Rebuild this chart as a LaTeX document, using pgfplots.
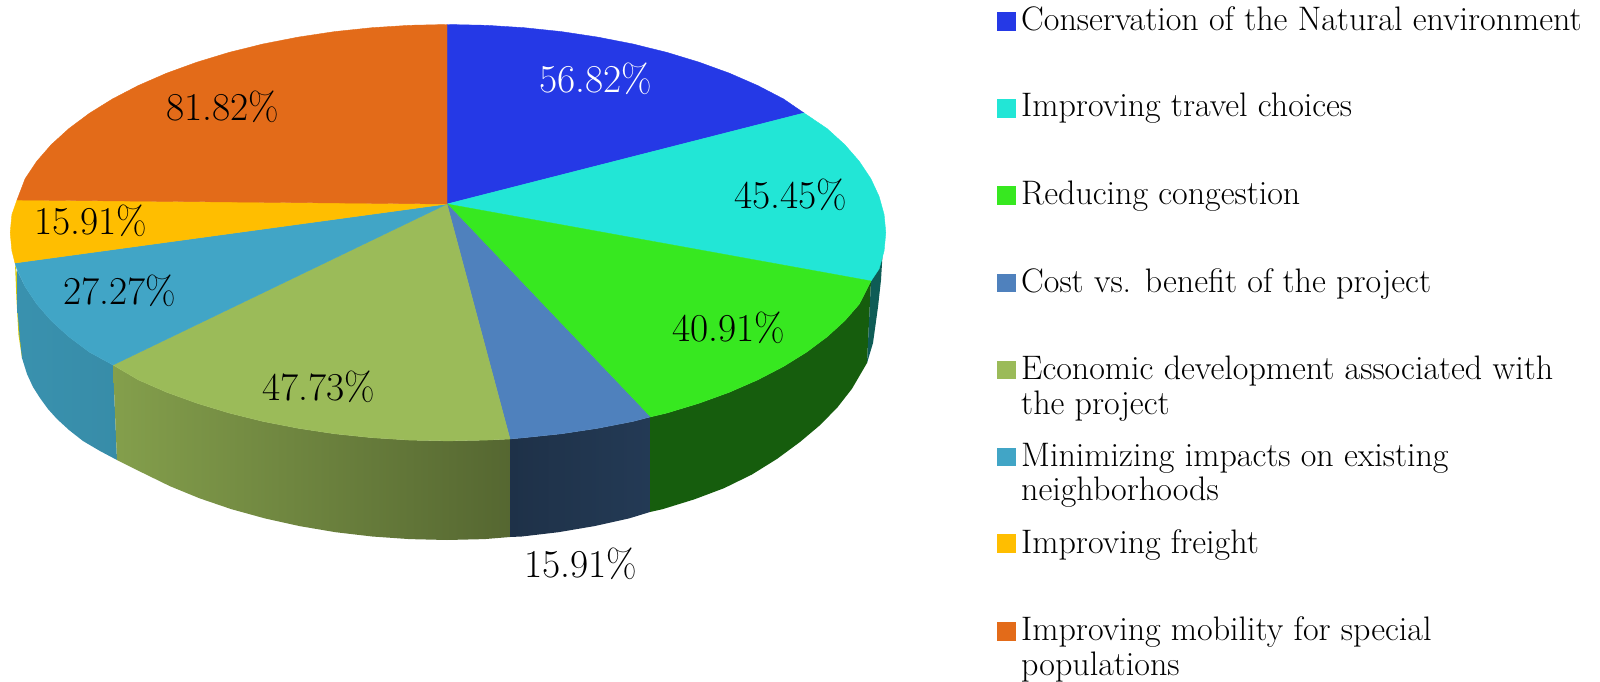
\documentclass[border=0pt]{standalone}
\usepackage{pgfplots}
\pgfplotsset{compat=1.18}
\definecolor{cblue}{HTML}{2539E6}
\definecolor{ccyan}{HTML}{22E6D6}
\definecolor{cgreen}{HTML}{37E820}
\definecolor{csteel}{HTML}{4F81BD}
\definecolor{colive}{HTML}{9BBB59}
\definecolor{cteal}{HTML}{41A5C6}
\definecolor{cyellow}{HTML}{FFBE00}
\definecolor{corange}{HTML}{E36B19}
\newcommand{\lab}[4][black]{\node[anchor=base,inner sep=0pt,text=#1,font=\fontsize{39.5}{44}\selectfont] at (axis cs:#2,#3) {#4};}
\newcommand{\leg}[3]{\node[anchor=base west,inner sep=0pt,font=\fontsize{34}{40}\selectfont] at (axis cs:#1,#2) {#3};}
\begin{document}
\begin{tikzpicture}
\path[use as bounding box] (0,0) rectangle (1600pt,682pt);
\begin{axis}[at={(0,0)},anchor=south west,x=1pt,y=1pt,xmin=0,xmax=1600,ymin=0,ymax=682,y dir=reverse,hide axis,clip=false]
% side walls
\addplot[no markers,draw=none,fill=black!10!yellow!75!olive] coordinates {(15,263)(16.5,300)(18.5,335)(22,358)(24,350)(20,290)};
\addplot[no markers,draw=none,left color=cteal!88!black,right color=cteal!85!black] coordinates {(113,365)(89.4,352.1)(68.9,336.8)(51.2,320.7)(36.6,303.9)(25.1,286.6)(17,270)(17.5,310)(19.5,335)(22,358)(27,374)(33,387)(40,398)(48,409)(57,419)(69,430)(83,441)(100,451)(117,460)};
\addplot[no markers,draw=none,left color=colive!85!black,right color=colive!55!black] coordinates {(113,365)(138.4,379.9)(166.6,392.2)(196.9,403.2)(229.1,413)(263,421.4)(298.3,428.3)(334.7,433.8)(372,437.7)(409.8,440.1)(448,440.9)(486.2,440.1)(510,439)(510,537)(484.6,539.1)(447,540)(409.4,539.1)(372.2,536.5)(335.5,532.2)(299.6,526.1)(264.9,518.4)(231.5,509.2)(199.8,498.4)(170,486.2)(142.2,472.6)(117,460)};
\addplot[no markers,draw=none,left color=csteel!38!black,right color=csteel!45!black] coordinates {(510,439)(524,437.7)(561.3,433.8)(597.7,428.3)(633,421.4)(650,417)(650,512)(629.1,518.4)(594.4,526.1)(558.5,532.2)(521.8,536.5)(510,537)};
\addplot[no markers,draw=none,fill=cgreen!40!black] coordinates {(650,417)(666.9,413)(699.1,403.2)(729.4,392.2)(757.6,379.9)(783.4,366.5)(806.6,352.1)(827.1,336.8)(844.8,320.7)(859.4,303.9)(871,281)(867,363)(852,388.7)(837.6,407.2)(820.2,425)(800.1,441.9)(777.2,458.8)(751.8,474.6)(724,488.2)(694.2,499.4)(662.5,509.2)(650,512)};
\addplot[no markers,draw=none,fill=ccyan!40!black] coordinates {(883,247)(871,281)(867,363)(873,343)(878,307)(881,280)};
% top slices
\addplot[no markers,draw=cblue,line width=.4pt,fill=cblue] coordinates {(447,204)(447,24.5)(486.2,25.3)(524,27.7)(561.3,31.6)(597.7,37.1)(633,44)(666.9,52.4)(699.1,62.2)(729.4,73.2)(757.6,85.5)(783.4,98.9)(804,113)(447,204)};
\addplot[no markers,draw=ccyan,line width=.4pt,fill=ccyan] coordinates {(447,204)(804,113)(827.1,128.6)(844.8,144.7)(859.4,161.5)(870.9,178.8)(879.1,196.5)(884.1,214.6)(885.8,232.7)(884.1,250.8)(879.1,268.9)(871,281)(447,204)};
\addplot[no markers,draw=cgreen,line width=.4pt,fill=cgreen] coordinates {(447,204)(871,281)(859.4,303.9)(844.8,320.7)(827.1,336.8)(806.6,352.1)(783.4,366.5)(757.6,379.9)(729.4,392.2)(699.1,403.2)(666.9,413)(650,417)(447,204)};
\addplot[no markers,draw=csteel,line width=.4pt,fill=csteel] coordinates {(447,204)(650,417)(633,421.4)(597.7,428.3)(561.3,433.8)(524,437.7)(510,439)(447,204)};
\addplot[no markers,draw=colive,line width=.4pt,fill=colive] coordinates {(447,204)(510,439)(486.2,440.1)(448,440.9)(409.8,440.1)(372,437.7)(334.7,433.8)(298.3,428.3)(263,421.4)(229.1,413)(196.9,403.2)(166.6,392.2)(138.4,379.9)(113,365)(447,204)};
\addplot[no markers,draw=cteal,line width=.4pt,fill=cteal] coordinates {(447,204)(113,365)(89.4,352.1)(68.9,336.8)(51.2,320.7)(36.6,303.9)(25.1,286.6)(16.9,268.9)(15,263)(447,204)};
\addplot[no markers,draw=cyellow,line width=.4pt,fill=cyellow] coordinates {(447,204)(15,263)(11.9,250.8)(10.2,232.7)(11.9,214.6)(17,200)(447,204)};
\addplot[no markers,draw=corange,line width=.4pt,fill=corange] coordinates {(447,204)(17,200)(25.1,178.8)(36.6,161.5)(51.2,144.7)(68.9,128.6)(89.4,113.3)(112.6,98.9)(138.4,85.5)(166.6,73.2)(196.9,62.2)(229.1,52.4)(263,44)(298.3,37.1)(334.7,31.6)(372,27.7)(409.8,25.3)(447,24.5)(447,204)};
% legend keys
\addplot[only marks,mark=square*,mark size=8.8pt,color=cblue,line width=0pt] coordinates {(1006.7,21.7)};
\addplot[only marks,mark=square*,mark size=8.8pt,color=ccyan,line width=0pt] coordinates {(1006.7,108.5)};
\addplot[only marks,mark=square*,mark size=8.8pt,color=cgreen,line width=0pt] coordinates {(1006.7,195.5)};
\addplot[only marks,mark=square*,mark size=8.8pt,color=csteel,line width=0pt] coordinates {(1006.7,283)};
\addplot[only marks,mark=square*,mark size=8.8pt,color=colive,line width=0pt] coordinates {(1006.7,370)};
\addplot[only marks,mark=square*,mark size=8.8pt,color=cteal,line width=0pt] coordinates {(1006.7,457)};
\addplot[only marks,mark=square*,mark size=8.8pt,color=cyellow,line width=0pt] coordinates {(1006.7,543.5)};
\addplot[only marks,mark=square*,mark size=8.8pt,color=corange,line width=0pt] coordinates {(1006.7,631.5)};
% data labels
\lab[white]{596}{93}{56.82\%}
\lab{791}{208}{45.45\%}
\lab{729}{341}{40.91\%}
\lab{318.5}{400}{47.73\%}
\lab{120}{304}{27.27\%}
\lab{90.5}{234}{15.91\%}
\lab{223}{121}{81.82\%}
\lab{581}{577}{15.91\%}
% legend text
\leg{1021}{31}{Conservation of the Natural environment}
\leg{1021}{117}{Improving travel choices}
\leg{1021}{204}{Reducing congestion}
\leg{1021}{292}{Cost vs. benefit of the project}
\leg{1021}{379}{Economic development associated with}
\leg{1021}{414}{the project}
\leg{1021}{466}{Minimizing impacts on existing}
\leg{1021}{500}{neighborhoods}
\leg{1021}{553}{Improving freight}
\leg{1021}{640}{Improving mobility for special}
\leg{1021}{675}{populations}
\end{axis}
\end{tikzpicture}
\end{document}
